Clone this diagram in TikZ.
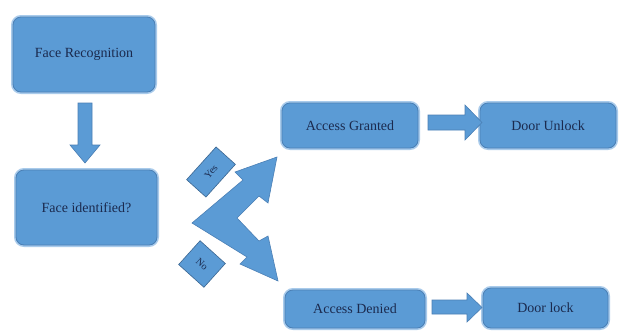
\documentclass[tikz,border=0pt]{standalone}
\usepackage{fontspec}
\setmainfont{Liberation Serif}
\usetikzlibrary{positioning}
\definecolor{boxfill}{HTML}{5B9BD5}
\definecolor{boxedge}{HTML}{4A7FB5}
\definecolor{glow}{HTML}{A9CBEB}
\definecolor{txt}{HTML}{1B2A4E}
\tikzset{
  fcbox/.style={rounded corners=8pt, fill=boxfill, draw=boxedge, line width=0.8pt,
    preaction={draw=glow, line width=4pt},
    text=txt, font=\fontsize{14}{16}\selectfont, inner sep=0pt, align=center},
  blockarrow/.style={fill=boxfill, draw=boxedge, line width=0.6pt, line join=miter},
  tagbox/.style={fill=boxfill, draw=boxedge!80!black, line width=0.6pt, text=txt,
    font=\fontsize{10}{12}\selectfont, inner sep=0pt}
}
\begin{document}
\begin{tikzpicture}[x=1pt,y=-1pt]
\useasboundingbox[fill=white] (0,0) rectangle (620,330);
% boxes
\node[fcbox, minimum width=142pt, minimum height=75pt] (fr) at (84,54.5) {Face Recognition};
\node[fcbox, minimum width=141pt, minimum height=75pt] (fi) at (86.5,207.5) {Face identified?};
\node[fcbox, minimum width=136pt, minimum height=45pt] (ag) at (350,125.5) {Access Granted};
\node[fcbox, minimum width=136pt, minimum height=45pt] (du) at (548,125.5) {Door Unlock};
\node[fcbox, minimum width=140pt, minimum height=38pt] (ad) at (355,309) {Access Denied};
\node[fcbox, minimum width=125pt, minimum height=40pt] (dl) at (545.5,308) {Door lock};
% down block arrow
\draw[blockarrow] (78,103) -- (92,103) -- (92,145) -- (100,145) -- (85,163) -- (70,145) -- (78,145) -- cycle;
% right block arrows
\draw[blockarrow] (428,115) -- (465,115) -- (465,105) -- (482,122.5) -- (465,140) -- (465,130) -- (428,130) -- cycle;
\draw[blockarrow] (432,300) -- (467,300) -- (467,293) -- (482,307.5) -- (467,322) -- (467,314) -- (432,314) -- cycle;
% bent double arrow
\draw[blockarrow] (192,223) -- (243,180) -- (235,172) -- (277,157) -- (268,203) -- (259,196)
  -- (237,218) -- (259,241) -- (268,236) -- (278,281) -- (240,264) -- (247,257) -- cycle;
% tags
\node[tagbox, minimum width=44pt, minimum height=26pt, rotate=48] (yes) at (211,172) {Yes};
\node[tagbox, minimum width=34pt, minimum height=32pt, rotate=-42] (no) at (202,264) {No};
\end{tikzpicture}
\end{document}
